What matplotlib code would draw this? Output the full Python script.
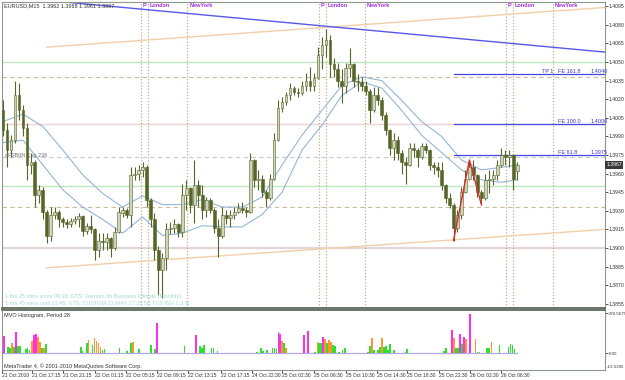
import numpy as np
import matplotlib.pyplot as plt
import matplotlib.transforms as mtrans

plt.rcParams['font.family'] = ['Liberation Sans Narrow', 'Liberation Sans', 'DejaVu Sans']

# EURUSD,M15  21-26 Oct 2010 (one candle per slot)
opens = [1.4011, 1.3995, 1.3979, 1.3987, 1.4023, 1.4011, 1.3997, 1.3967, 1.3969, 1.3943,
         1.3947, 1.3929, 1.3910, 1.3927, 1.3929, 1.3923, 1.3921, 1.3919, 1.3922, 1.3923,
         1.3926, 1.3914, 1.3918, 1.3915, 1.3898, 1.3906, 1.3905, 1.3908, 1.3900, 1.3913,
         1.3928, 1.3931, 1.3927, 1.3959, 1.3960, 1.3963, 1.3965, 1.3939, 1.3923, 1.3898,
         1.3882, 1.3892, 1.3915, 1.3916, 1.3919, 1.3913, 1.3943, 1.3948, 1.3935, 1.3951,
         1.3943, 1.3931, 1.3939, 1.3931, 1.3916, 1.3910, 1.3927, 1.3924, 1.3927, 1.3929,
         1.3932, 1.3931, 1.3929, 1.3971, 1.3955, 1.3956, 1.3945, 1.3940, 1.3956, 1.3987,
         1.4013, 1.4018, 1.4023, 1.4029, 1.4026, 1.4025, 1.4031, 1.4035, 1.4031, 1.4037,
         1.4056, 1.4064, 1.4068, 1.4048, 1.4044, 1.4035, 1.4031, 1.4045, 1.4048, 1.4035,
         1.4034, 1.4031, 1.4027, 1.4011, 1.4023, 1.4019, 1.4007, 1.3995, 1.3981, 1.3987,
         1.3977, 1.3969, 1.3967, 1.3981, 1.3979, 1.3973, 1.3982, 1.3979, 1.3967, 1.3965,
         1.3963, 1.3951, 1.3940, 1.3935, 1.3916, 1.3927, 1.3945, 1.3956, 1.3965, 1.3959,
         1.3945, 1.3940, 1.3955, 1.3956, 1.3959, 1.3967, 1.3975, 1.3973, 1.3975, 1.3962]
highs = [1.4019, 1.4001, 1.3991, 1.4035, 1.4033, 1.4015, 1.4001, 1.3977, 1.3971, 1.3951,
         1.3949, 1.3931, 1.3933, 1.3933, 1.3931, 1.3925, 1.3923, 1.3924, 1.3926, 1.3928,
         1.3927, 1.3920, 1.3927, 1.3916, 1.3912, 1.3912, 1.3912, 1.3909, 1.3917, 1.3933,
         1.3933, 1.3932, 1.3965, 1.3965, 1.3967, 1.3969, 1.3967, 1.3940, 1.3928, 1.3902,
         1.3896, 1.3920, 1.3921, 1.3923, 1.3920, 1.3952, 1.3955, 1.3949, 1.3971, 1.3955,
         1.3951, 1.3941, 1.3940, 1.3932, 1.3923, 1.3933, 1.3931, 1.3931, 1.3933, 1.3936,
         1.3937, 1.3933, 1.3977, 1.3972, 1.3963, 1.3959, 1.3947, 1.3960, 1.3993, 1.4019,
         1.4022, 1.4026, 1.4033, 1.4031, 1.4029, 1.4035, 1.4041, 1.4046, 1.4041, 1.4062,
         1.4070, 1.4077, 1.4072, 1.4053, 1.4049, 1.4044, 1.4049, 1.4061, 1.4049, 1.4040,
         1.4038, 1.4035, 1.4028, 1.4030, 1.4030, 1.4022, 1.4010, 1.3996, 1.3993, 1.3990,
         1.3979, 1.3973, 1.3985, 1.3985, 1.3981, 1.3985, 1.3985, 1.3980, 1.3969, 1.3969,
         1.3969, 1.3952, 1.3944, 1.3936, 1.3931, 1.3949, 1.3963, 1.3969, 1.3971, 1.3960,
         1.3947, 1.3960, 1.3963, 1.3963, 1.3971, 1.3981, 1.3979, 1.3979, 1.3976, 1.3969]
lows = [1.3990, 1.3965, 1.3973, 1.3985, 1.4003, 1.3990, 1.3955, 1.3960, 1.3933, 1.3936,
        1.3923, 1.3904, 1.3906, 1.3923, 1.3917, 1.3917, 1.3916, 1.3917, 1.3919, 1.3917,
        1.3910, 1.3911, 1.3912, 1.3890, 1.3893, 1.3898, 1.3898, 1.3893, 1.3898, 1.3912,
        1.3925, 1.3924, 1.3917, 1.3955, 1.3955, 1.3957, 1.3933, 1.3917, 1.3890, 1.3862,
        1.3860, 1.3882, 1.3911, 1.3912, 1.3909, 1.3909, 1.3931, 1.3928, 1.3920, 1.3933,
        1.3923, 1.3925, 1.3928, 1.3912, 1.3893, 1.3908, 1.3919, 1.3917, 1.3923, 1.3928,
        1.3928, 1.3925, 1.3928, 1.3949, 1.3947, 1.3941, 1.3933, 1.3939, 1.3955, 1.3986,
        1.4010, 1.4015, 1.4019, 1.4023, 1.4022, 1.4023, 1.4027, 1.4027, 1.4027, 1.4036,
        1.4044, 1.4054, 1.4038, 1.4038, 1.4030, 1.4017, 1.4025, 1.4038, 1.4030, 1.4027,
        1.4027, 1.4023, 1.4001, 1.4010, 1.4015, 1.4003, 1.3991, 1.3975, 1.3971, 1.3971,
        1.3960, 1.3952, 1.3966, 1.3973, 1.3965, 1.3972, 1.3977, 1.3963, 1.3960, 1.3957,
        1.3947, 1.3936, 1.3932, 1.3906, 1.3913, 1.3923, 1.3944, 1.3955, 1.3955, 1.3941,
        1.3935, 1.3939, 1.3944, 1.3951, 1.3955, 1.3965, 1.3967, 1.3965, 1.3947, 1.3955]
closes = [1.3995, 1.3979, 1.3987, 1.4023, 1.4011, 1.3997, 1.3967, 1.3969, 1.3943, 1.3947,
          1.3929, 1.3910, 1.3927, 1.3929, 1.3923, 1.3921, 1.3919, 1.3922, 1.3923, 1.3926,
          1.3914, 1.3918, 1.3915, 1.3898, 1.3906, 1.3905, 1.3908, 1.3900, 1.3913, 1.3929,
          1.3931, 1.3927, 1.3959, 1.3960, 1.3963, 1.3965, 1.3939, 1.3923, 1.3898, 1.3882,
          1.3892, 1.3915, 1.3916, 1.3919, 1.3913, 1.3943, 1.3948, 1.3935, 1.3951, 1.3943,
          1.3931, 1.3939, 1.3931, 1.3916, 1.3910, 1.3927, 1.3924, 1.3927, 1.3929, 1.3932,
          1.3931, 1.3929, 1.3971, 1.3955, 1.3956, 1.3945, 1.3940, 1.3956, 1.3987, 1.4013,
          1.4018, 1.4023, 1.4029, 1.4026, 1.4025, 1.4031, 1.4035, 1.4031, 1.4037, 1.4056,
          1.4064, 1.4068, 1.4048, 1.4044, 1.4035, 1.4031, 1.4045, 1.4048, 1.4035, 1.4034,
          1.4031, 1.4027, 1.4011, 1.4023, 1.4019, 1.4007, 1.3995, 1.3981, 1.3987, 1.3977,
          1.3969, 1.3967, 1.3981, 1.3979, 1.3973, 1.3982, 1.3979, 1.3967, 1.3965, 1.3963,
          1.3951, 1.3940, 1.3935, 1.3916, 1.3927, 1.3945, 1.3956, 1.3965, 1.3959, 1.3945,
          1.3940, 1.3955, 1.3956, 1.3959, 1.3967, 1.3975, 1.3973, 1.3975, 1.3956, 1.3967]

# two moving averages, sampled every 5 candles
ma_pos = [0, 5, 10, 15, 20, 25, 30, 35, 40, 45, 50, 55, 60, 65, 70, 75, 80, 85, 90,
          95, 100, 105, 110, 115, 120, 125, 129]
ma_fast = [1.4002, 1.4008, 1.3998, 1.3979, 1.3959, 1.3944, 1.3933, 1.3942, 1.3935, 1.3935,
           1.3939, 1.3933, 1.3933, 1.3941, 1.3967, 1.3991, 1.4011, 1.4031, 1.4038, 1.4035,
           1.4019, 1.4002, 1.3990, 1.3971, 1.3963, 1.3965, 1.3967]
ma_slow = [1.3985, 1.3987, 1.3967, 1.3947, 1.3933, 1.3923, 1.3912, 1.3925, 1.3910, 1.3912,
           1.3918, 1.3917, 1.3917, 1.3927, 1.3945, 1.3979, 1.3999, 1.4023, 1.4034, 1.4029,
           1.4011, 1.3991, 1.3977, 1.3963, 1.3955, 1.3953, 1.3955]

# MVO histogram: position, value, colour class (g = green, o = orange, m = magenta)
vol_pos = [0.33, 1.33, 1.83, 2.25, 2.83, 3.33, 3.83, 4.33, 5.75, 6.17, 6.67, 7.25, 7.75,
           8.25, 8.75, 9.25, 9.75, 10.25, 10.75, 19.5, 19.92, 21.0, 21.42, 22.42, 22.92,
           23.42, 23.92, 24.42, 24.92, 25.42, 29.25, 31.17, 32.17, 32.67, 34.17, 37.17,
           38.17, 38.67, 45.5, 48.42, 49.42, 49.92, 50.42, 52.33, 52.83, 53.83, 63.67,
           64.67, 65.17, 66.17, 67.58, 68.08, 68.58, 69.08, 69.5, 70.0, 70.5, 71.0, 75.42,
           76.42, 78.33, 78.92, 79.33, 79.83, 80.33, 80.83, 81.33, 81.83, 82.33, 82.75,
           83.25, 84.25, 85.17, 85.75, 91.58, 92.08, 92.58, 93.08, 94.08, 94.5, 95.0, 95.5,
           96.0, 96.5, 97.0, 98.08, 100.92, 101.42, 110.58, 111.17, 112.58, 113.08, 113.58,
           114.08, 114.58, 115.08, 115.58, 116.08, 117.08, 118.5, 119.0, 119.5, 121.42,
           121.92, 122.5, 124.5, 126.83, 127.33, 127.83, 128.33]
vol_val = [115, 43, 32, 70, 43, 140, 47, 50, 27, 32, 20, 81, 122, 128, 106, 72, 32, 32, 61,
           43, 16, 65, 88, 54, 99, 81, 70, 43, 20, 27, 32, 14, 65, 72, 27, 54, 27, 201, 47,
           122, 50, 36, 54, 32, 32, 14, 10, 36, 14, 20, 36, 32, 27, 140, 128, 81, 70, 32,
           122, 151, 10, 72, 70, 65, 106, 92, 70, 88, 77, 54, 50, 10, 20, 32, 10, 50, 99,
           20, 20, 43, 104, 40, 50, 20, 59, 20, 10, 25, 14, 36, 155, 99, 36, 36, 126, 61,
           110, 92, 264, 92, 10, 10, 36, 36, 77, 54, 40, 61, 54, 29]
vol_type = list('mggogmgggggommoogog' 'gggogoooogg' 'gggogggm' 'gmgggggg'
                'gggggggmmogo' 'mmg' 'oggmogooggggg' 'ggogggoggggg' 'gg'
                'ggmoggmgmom' 'ogg' 'ggo' 'ggggg')

price_ticks = [1.3855, 1.3870, 1.3885, 1.3900, 1.3915, 1.3930, 1.3945, 1.3960, 1.3975,
               1.3990, 1.4005, 1.4020, 1.4035, 1.4050, 1.4065, 1.4080, 1.4095]
time_pos = [-0.25, 7.25, 15, 23, 30.75, 38.75, 46.5, 54.75, 62.5, 70, 78, 86, 93.75,
            101.25, 109.25, 117.25, 125]
time_labels = ['21 Oct 2010', '21 Oct 17:15', '21 Oct 21:15', '22 Oct 01:15', '22 Oct 05:15',
               '22 Oct 09:15', '22 Oct 13:15', '22 Oct 17:15', '24 Oct 22:30', '25 Oct 02:30',
               '25 Oct 06:30', '25 Oct 10:30', '25 Oct 14:30', '25 Oct 18:30', '25 Oct 22:30',
               '26 Oct 02:30', '26 Oct 06:30']

# session markers (pivot, London open, New York open) for 3 days
session_pos = [34.5, 36.25, 46.25, 79.25, 81.0, 90.75, 126.25, 128.0, 138.0]
session_names = ['P', 'London', 'NewYork'] * 3

# drawn objects
blue_line_x, blue_line_y = [10, 151], [1.4100, 1.4058]
chan_x = [11, 151]
chan_top = [1.4062, 1.4094]
chan_bot = [1.3884, 1.3915]
zigzag_x, zigzag_y = [113, 117, 120], [1.3906, 1.3971, 1.3935]
fe_names = ['FE 161.8', 'FE 100.0', 'FE 61.8']
fe_levels = [1.4040, 1.4000, 1.3975]
fe_start = 113

W, H = 625, 380
fs = 4.0
afs = 3.7


def box(x0, y0, x1, y1):
    return [x0 / W, 1 - y1 / H, (x1 - x0) / W, (y1 - y0) / H]


fig = plt.figure(figsize=(6.25, 3.8), dpi=100, facecolor='white')
ax = fig.add_axes(box(2, 2, 605, 308))
vax = fig.add_axes(box(2, 310, 605, 370), sharex=ax)

# background levels
for lev, col, ls, lw in [(1.4050, '#bde8bd', '-', 1.0), (1.3950, '#bde8bd', '-', 1.0),
                         (1.4000, '#f0d0d0', '-', 1.0), (1.3900, '#e2d6d6', '-', 1.6),
                         (1.4038, '#cbbd9f', (0, (4, 3)), 0.8),
                         (1.3973, '#c8c8c8', (0, (4, 3)), 0.8),
                         (1.3933, '#cbbd9f', (0, (4, 3)), 0.8)]:
    ax.axhline(lev, color=col, ls=ls, lw=lw, zorder=1)

trans = mtrans.blended_transform_factory(ax.transData, ax.transAxes)
for p, name in zip(session_pos, session_names):
    ax.axvline(p, color='#c2ad84', ls=(0, (1, 1.5)), lw=0.9, zorder=1)
    ax.text(p + 0.45, 0.99, name, transform=trans, fontsize=fs, color='#a030e0',
            va='center', ha='left', fontweight='bold')

ax.plot(chan_x, chan_top, color='#f2cfa8', lw=1.0, zorder=2)
ax.plot(chan_x, chan_bot, color='#f2cfa8', lw=1.0, zorder=2)
ax.plot(blue_line_x, blue_line_y, color='#5858e8', lw=1.0, zorder=2)

ax.plot(ma_pos, ma_fast, color='#93b6d6', lw=0.8, zorder=2)
ax.plot(ma_pos, ma_slow, color='#93b6d6', lw=0.8, zorder=2)

# candles
x = np.arange(len(closes))
o = np.array(opens)
c = np.array(closes)
up = c >= o
ax.vlines(x, lows, highs, color='#57672c', lw=0.8, zorder=3)
ax.bar(x[up], np.maximum(c - o, 0.00004)[up], bottom=o[up], width=0.7,
       color='#d0d4ba', edgecolor='#57672c', lw=0.4, zorder=4)
ax.bar(x[~up], (o - c)[~up], bottom=c[~up], width=0.7,
       color='#56662a', edgecolor='#56662a', lw=0.4, zorder=4)

ax.plot(zigzag_x, zigzag_y, color='#e02828', lw=1.0, zorder=5)

for name, lev in zip(fe_names, fe_levels):
    ax.plot([fe_start, 151], [lev, lev], color='#4646e0', lw=0.9, zorder=2)
    ax.text(139.3, lev + 0.00003, name, fontsize=fs, color='#3a3ad0', va='bottom')
    ax.text(147.3, lev + 0.00003, '%.4f' % lev, fontsize=fs, color='#3a3ad0', va='bottom')
ax.text(135.3, fe_levels[0] + 0.00003, 'TP 1', fontsize=fs, color='#3a3ad0', va='bottom')

ax.text(0.005, 0.5, '#F0B0N Exp 238', transform=ax.transAxes, fontsize=fs,
        color='#707070', va='center')
ax.text(0.005, 0.038, '1 hrs 25 mins since 09:30. GTS: German Ifo Business Climate (Monthly)',
        transform=ax.transAxes, fontsize=fs, color='#9fd8d2', va='center')
ax.text(0.005, 0.014, '1 hrs 45 mins until 13:45. GTS: CUSTOM 23 MAY 17:35 5C TGS INV 1.3 %',
        transform=ax.transAxes, fontsize=fs, color='#9fd8d2', va='center')

ax.set_xlim(-0.25, 151)
ax.set_ylim(1.38516, 1.40984)
ax.yaxis.tick_right()
ax.set_yticks(price_ticks)
ax.set_yticklabels(['%.4f' % t for t in price_ticks])
ax.tick_params(axis='y', labelsize=afs, length=2, pad=0.8, colors='#333333', width=0.6)
ax.tick_params(axis='x', length=0, labelbottom=False)
ax.set_facecolor('white')
ax.text(1.002, closes[-1], '%.4f' % closes[-1], transform=mtrans.blended_transform_factory(
    ax.transAxes, ax.transData), fontsize=afs, color='white', va='center', ha='left',
    bbox=dict(fc='#3a3a3a', ec='none', pad=0.8), clip_on=False)

fig.text(4 / W, 1 - 6 / H, 'EURUSD,M15  1.3962 1.3968 1.3961 1.3967', fontsize=fs,
         color='#333333', va='center', ha='left')

# volume panel
colors = {'g': '#2ee02e', 'o': '#ff9430', 'm': '#ff2ee8'}
vax.plot([0, 129], [0, 0], color='#b4a8e8', lw=0.9, zorder=1)
vax.bar(vol_pos, vol_val, width=0.42, color=[colors[t] for t in vol_type], zorder=2,
        linewidth=0)
vax.set_ylim(-115, 291)
vax.yaxis.tick_right()
vax.set_yticks([270.5675, 0])
vax.set_yticklabels(['270.5675', '0.00'])
vax.tick_params(axis='y', labelsize=3.2, length=2, pad=0.6, colors='#333333', width=0.6)
vax.text(1.003, 0.05, '-19.5385', transform=vax.transAxes, fontsize=3.2, color='#333333',
         va='center', ha='left')
vax.text(0.003, 0.915, 'MVO Histogram, Period 28', transform=vax.transAxes, fontsize=fs,
         color='#333333', va='center')
vax.text(0.003, 0.07, 'MetaTrader 4, \u00a9 2001-2010 MetaQuotes Software Corp.',
         transform=vax.transAxes, fontsize=fs, color='#333333', va='center')
vax.set_xticks(time_pos)
vax.set_xticklabels(time_labels, ha='left', fontsize=3.6, color='#333333')
vax.tick_params(axis='x', length=2, pad=0.4, width=0.6, colors='#333333')

for a in (ax, vax):
    for s in a.spines.values():
        s.set_color('#8a998a')
        s.set_linewidth(0.8)
ax.spines['bottom'].set_color('#4e5e4e')
ax.spines['bottom'].set_linewidth(1.2)
vax.spines['top'].set_color('#4e5e4e')
vax.spines['top'].set_linewidth(1.2)

fig.savefig('out.png', dpi=100, facecolor='white')
